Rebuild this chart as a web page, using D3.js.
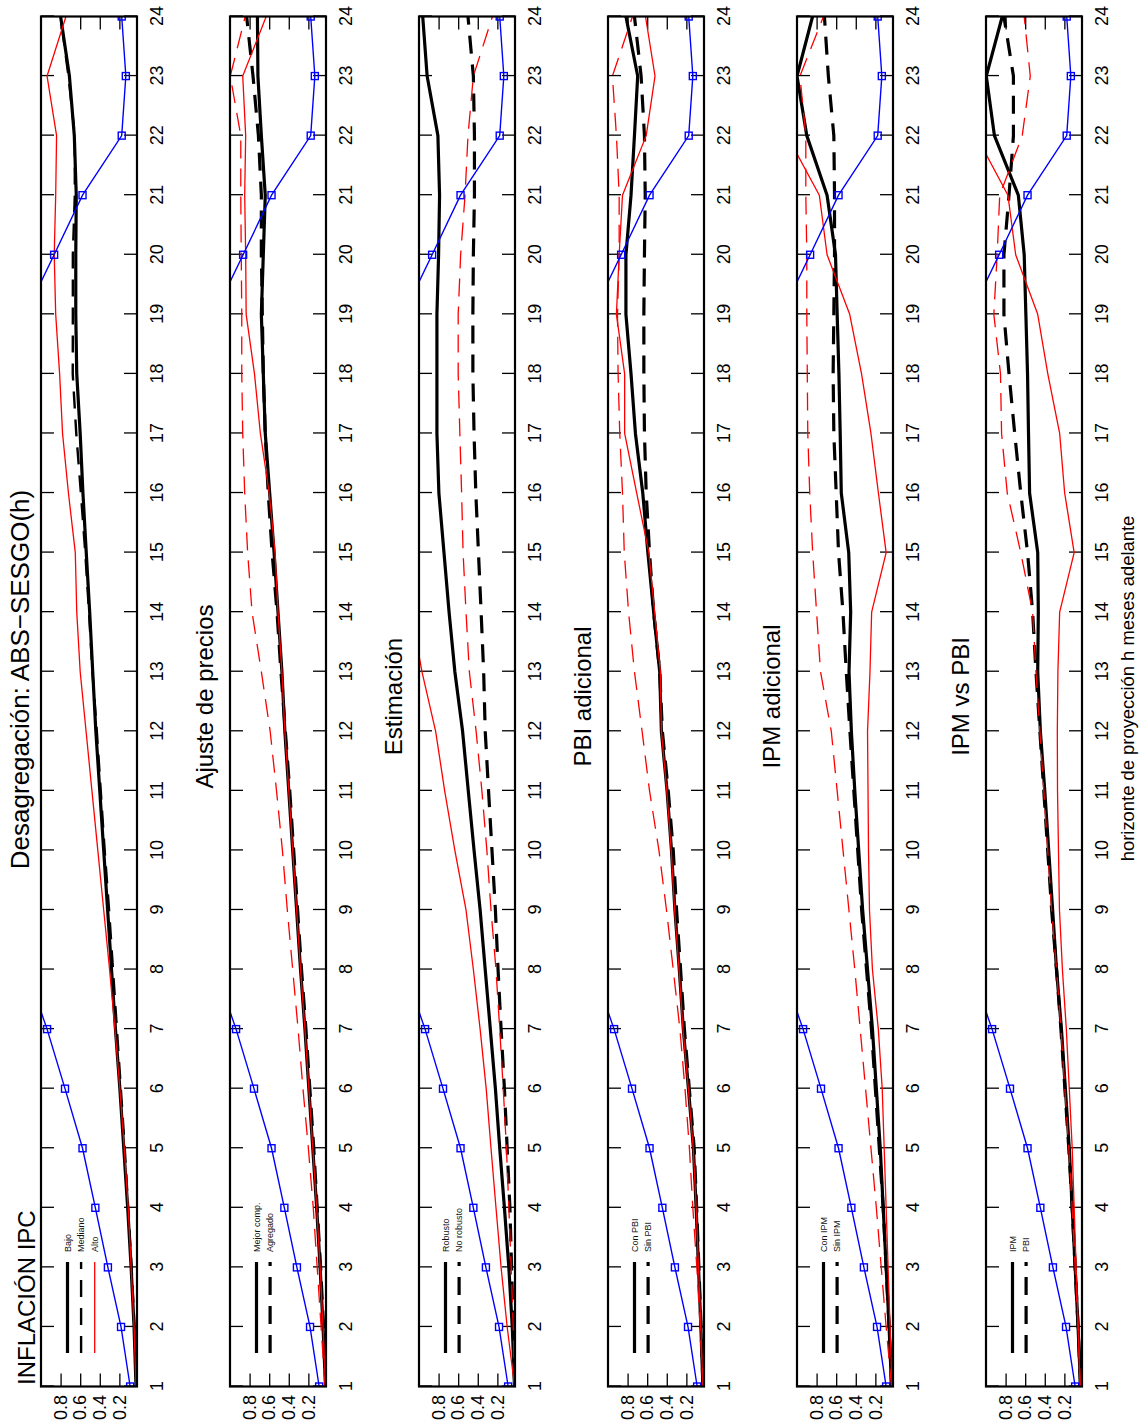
<!DOCTYPE html>
<html><head><meta charset="utf-8">
<script src="https://cdn.jsdelivr.net/npm/d3@7"></script>
<style>
body{margin:0;background:#fff}
svg{display:block}
text{font-family:'Liberation Sans',Arial,Helvetica,sans-serif}
</style>
</head><body>
<svg id="c" width="1144" height="1424"></svg>
<script>
// ---------------- DATA ----------------
const horizons = [1,2,3,4,5,6,7,8,9,10,11,12,13,14,15,16,17,18,19,20,21,22,23,24];
const valueTicks = [0.2,0.4,0.6,0.8];

// reference series (blue squares), identical in every panel
const blueRef = [0.09,0.183,0.317,0.445,0.576,0.755,0.938,1.15,1.3,1.4,1.45,1.5,1.5,1.5,1.45,1.4,1.35,1.25,1.16,0.866,0.576,0.176,0.134,0.176];

// Panel 1: INFLACIÓN IPC
const p1Bajo    = [0.03,0.05,0.08,0.115,0.155,0.195,0.24,0.28,0.32,0.36,0.40,0.44,0.472,0.503,0.538,0.572,0.60,0.635,0.645,0.645,0.64,0.66,0.71,0.80];
const p1Mediano = [0.025,0.045,0.075,0.11,0.145,0.185,0.225,0.265,0.305,0.35,0.39,0.43,0.475,0.51,0.548,0.593,0.64,0.676,0.675,0.675,0.655,0.655,0.72,0.80];
const p1Alto    = [0.03,0.05,0.08,0.11,0.15,0.195,0.245,0.30,0.36,0.42,0.48,0.54,0.60,0.635,0.65,0.72,0.78,0.81,0.85,0.865,0.85,0.841,0.938,0.745];

// Panel 2: Ajuste de precios
const p2Mejor     = [0.025,0.05,0.08,0.115,0.155,0.195,0.235,0.28,0.32,0.36,0.40,0.44,0.47,0.51,0.55,0.595,0.64,0.66,0.68,0.66,0.64,0.68,0.715,0.72];
const p2Agregado  = [0.02,0.045,0.075,0.11,0.145,0.185,0.225,0.27,0.31,0.35,0.39,0.435,0.48,0.52,0.57,0.61,0.64,0.66,0.67,0.68,0.68,0.71,0.765,0.83];
const p2RedSolid  = [0.025,0.05,0.08,0.115,0.155,0.195,0.235,0.28,0.32,0.36,0.40,0.44,0.47,0.51,0.54,0.60,0.69,0.75,0.835,0.84,0.85,0.84,0.87,0.63];
const p2RedDashed = [0.03,0.07,0.11,0.15,0.20,0.255,0.305,0.36,0.415,0.465,0.525,0.59,0.68,0.775,0.82,0.85,0.87,0.88,0.88,0.885,0.89,0.89,0.997,0.845];

// Panel 3: Estimación
const p3Robusto   = [0.024,0.048,0.083,0.128,0.176,0.22,0.272,0.324,0.376,0.438,0.497,0.555,0.634,0.693,0.745,0.797,0.817,0.817,0.817,0.80,0.79,0.807,0.917,0.962];
const p3NoRobusto = [0.024,0.038,0.055,0.072,0.10,0.128,0.162,0.193,0.22,0.255,0.29,0.324,0.34,0.366,0.393,0.42,0.438,0.45,0.45,0.445,0.434,0.434,0.445,0.50];
const p3RedSolid  = [0.024,0.1,0.162,0.214,0.265,0.314,0.376,0.445,0.52,0.634,0.738,0.83,0.97,1.08,1.15,1.2,1.25,1.28,1.3,1.3,1.3,1.28,1.25,1.2];
const p3RedDashed = [0.024,0.038,0.059,0.083,0.107,0.14,0.176,0.214,0.265,0.307,0.358,0.417,0.486,0.52,0.55,0.565,0.583,0.60,0.60,0.575,0.53,0.50,0.445,0.25];

// Panel 4: PBI adicional
const p4ConPBI    = [0.031,0.052,0.076,0.10,0.128,0.179,0.231,0.272,0.317,0.352,0.397,0.455,0.472,0.534,0.593,0.645,0.72,0.765,0.817,0.817,0.765,0.73,0.697,0.817];
const p4SinPBI    = [0.03,0.05,0.072,0.095,0.12,0.17,0.22,0.259,0.30,0.334,0.385,0.445,0.472,0.534,0.576,0.61,0.628,0.634,0.634,0.628,0.62,0.628,0.662,0.73];
const p4RedSolid  = [0.031,0.052,0.076,0.10,0.13,0.18,0.235,0.275,0.32,0.355,0.40,0.455,0.466,0.524,0.583,0.707,0.83,0.83,0.914,0.886,0.852,0.61,0.52,0.617];
const p4RedDashed = [0.031,0.059,0.093,0.134,0.169,0.214,0.266,0.334,0.403,0.48,0.576,0.652,0.73,0.79,0.834,0.852,0.88,0.897,0.903,0.886,0.886,0.914,0.955,0.75];

// Panel 5: IPM adicional
const p5ConIPM    = [0.035,0.06,0.09,0.12,0.15,0.19,0.23,0.28,0.33,0.37,0.41,0.445,0.469,0.452,0.472,0.548,0.559,0.572,0.59,0.607,0.693,0.90,1.0,0.841];
const p5SinIPM    = [0.035,0.06,0.09,0.12,0.16,0.20,0.24,0.29,0.34,0.38,0.42,0.46,0.497,0.531,0.576,0.60,0.624,0.631,0.624,0.617,0.617,0.624,0.68,0.72];
const p5RedSolid  = [0.03,0.05,0.07,0.09,0.11,0.13,0.17,0.23,0.26,0.27,0.275,0.28,0.255,0.238,0.09,0.169,0.245,0.341,0.462,0.693,0.772,1.1,1.2,1.2];
const p5RedDashed = [0.035,0.09,0.14,0.19,0.245,0.30,0.355,0.41,0.47,0.53,0.59,0.65,0.76,0.80,0.84,0.87,0.89,0.895,0.90,0.90,0.91,0.91,0.97,0.73];

// Panel 6: IPM vs PBI
const p6IPM       = [0.035,0.06,0.09,0.12,0.15,0.19,0.23,0.28,0.32,0.36,0.40,0.445,0.472,0.466,0.472,0.555,0.566,0.576,0.593,0.61,0.67,0.914,0.997,0.834];
const p6PBI       = [0.035,0.06,0.09,0.12,0.155,0.195,0.235,0.28,0.33,0.37,0.41,0.45,0.49,0.524,0.576,0.645,0.707,0.765,0.817,0.817,0.765,0.72,0.72,0.817];
const p6RedSolid  = [0.04,0.06,0.08,0.10,0.12,0.15,0.18,0.22,0.25,0.26,0.27,0.272,0.266,0.248,0.10,0.197,0.248,0.369,0.472,0.697,0.776,1.1,1.2,1.2];
const p6RedDashed = [0.035,0.06,0.09,0.12,0.155,0.195,0.235,0.28,0.33,0.37,0.41,0.45,0.49,0.524,0.645,0.783,0.841,0.852,0.92,0.886,0.86,0.63,0.548,0.61];

const panelTitles = ["INFLACIÓN IPC","Ajuste de precios","Estimación","PBI adicional","IPM adicional","IPM vs PBI"];
const legendLabels = [["Bajo","Mediano","Alto"],["Mejor comp.","Agregado"],["Robusto","No robusto"],["Con PBI","Sin PBI"],["Con IPM","Sin IPM"],["IPM","PBI"]];
const mainTitle = "Desagregación: ABS−SESGO(h)";
const xLabel = "horizonte de proyección h meses adelante";

// ---------------- STYLES ----------------
const S = {
  blackSolid:  {stroke:"#000", width:3.2, dash:null},
  blackDashed: {stroke:"#000", width:3.2, dash:"18,11"},
  blackDashedThin: {stroke:"#000", width:2.4, dash:"17,11"},
  redSolid:    {stroke:"#ff0000", width:1.3, dash:null},
  redDashed:   {stroke:"#ff0000", width:1.3, dash:"18,10"},
  blue:        {stroke:"#0000ff", width:1.4, dash:null}
};

const panels = [
  {series:[[p1Bajo,S.blackSolid],[p1Mediano,S.blackDashedThin],[p1Alto,S.redSolid]], legend:[S.blackSolid,S.blackDashedThin,S.redSolid]},
  {series:[[p2Mejor,S.blackSolid],[p2Agregado,S.blackDashed],[p2RedSolid,S.redSolid],[p2RedDashed,S.redDashed]], legend:[S.blackSolid,S.blackDashed]},
  {series:[[p3Robusto,S.blackSolid],[p3NoRobusto,S.blackDashed],[p3RedSolid,S.redSolid],[p3RedDashed,S.redDashed]], legend:[S.blackSolid,S.blackDashed]},
  {series:[[p4ConPBI,S.blackSolid],[p4SinPBI,S.blackDashed],[p4RedSolid,S.redSolid],[p4RedDashed,S.redDashed]], legend:[S.blackSolid,S.blackDashed]},
  {series:[[p5ConIPM,S.blackSolid],[p5SinIPM,S.blackDashed],[p5RedSolid,S.redSolid],[p5RedDashed,S.redDashed]], legend:[S.blackSolid,S.blackDashed]},
  {series:[[p6IPM,S.blackSolid],[p6PBI,S.blackDashed],[p6RedSolid,S.redSolid],[p6RedDashed,S.redDashed]], legend:[S.blackSolid,S.blackDashed]}
];

// ---------------- LAYOUT (unrotated frame, then rotated -90deg) ----------------
const FW = 1424; // frame width before rotation = page height
const X0 = 37.5, X1 = 1407.5;
const panelTop = [41,230,419,608,797,986];
const PH = 96;

const svg = d3.select("#c");
const root = svg.append("g").attr("transform", `translate(0,${FW}) rotate(-90)`);
const x = d3.scaleLinear().domain([1,24]).range([X0,X1]);

panels.forEach((p,i)=>{
  const top = panelTop[i];
  const y = d3.scaleLinear().domain([0.02,1.0]).range([top+PH, top]);
  const g = root.append("g");

  const cid = "clip"+i;
  g.append("clipPath").attr("id",cid).append("rect")
    .attr("x",X0).attr("y",top).attr("width",X1-X0).attr("height",PH);

  // axes
  const ax1 = g.append("g").attr("transform",`translate(0,${top+PH})`)
    .call(d3.axisBottom(x).tickValues(horizons).tickSizeInner(-13).tickSizeOuter(0).tickPadding(13).tickFormat(d3.format("d")));
  const ax2 = g.append("g").attr("transform",`translate(0,${top})`)
    .call(d3.axisTop(x).tickValues(horizons).tickSizeInner(-13).tickSizeOuter(0).tickFormat(""));
  const ax3 = g.append("g").attr("transform",`translate(${X0},0)`)
    .call(d3.axisLeft(y).tickValues(valueTicks).tickSizeInner(-13).tickSizeOuter(0).tickPadding(8.5).tickFormat(d3.format(".1f")));
  const ax4 = g.append("g").attr("transform",`translate(${X1},0)`)
    .call(d3.axisRight(y).tickValues(valueTicks).tickSizeInner(-13).tickSizeOuter(0).tickFormat(""));
  [ax1,ax2,ax3,ax4].forEach(a=>{
    a.select(".domain").remove();
    a.selectAll(".tick line").attr("stroke","#000").attr("stroke-width",1.3);
    a.selectAll(".tick text").attr("font-size",18).attr("fill","#000").attr("font-family","'Liberation Sans',Arial,sans-serif");
  });

  // series
  const line = d3.line().x((d,k)=>x(horizons[k])).y(d=>y(d));
  const plot = g.append("g").attr("clip-path",`url(#${cid})`);
  p.series.forEach(([arr,st])=>{
    plot.append("path").datum(arr).attr("d",line)
      .attr("fill","none").attr("stroke",st.stroke).attr("stroke-width",st.width)
      .attr("stroke-dasharray",st.dash).attr("stroke-linejoin","round");
  });
  plot.append("path").datum(blueRef).attr("d",line)
    .attr("fill","none").attr("stroke",S.blue.stroke).attr("stroke-width",S.blue.width);
  plot.selectAll("rect.mk").data(blueRef).enter().append("rect").attr("class","mk")
    .attr("x",(d,k)=>x(horizons[k])-3.5).attr("y",d=>y(d)-3.5)
    .attr("width",7).attr("height",7).attr("fill","none")
    .attr("stroke","#0000ff").attr("stroke-width",1.4);

  // box
  g.append("rect").attr("x",X0).attr("y",top).attr("width",X1-X0).attr("height",PH)
    .attr("fill","none").attr("stroke","#000").attr("stroke-width",2.2);

  // legend
  const lg = g.append("g");
  p.legend.forEach((st,k)=>{
    const ly = top + 26.5 + k*13.6;
    lg.append("line").attr("x1",71).attr("x2",162).attr("y1",ly).attr("y2",ly)
      .attr("stroke",st.stroke).attr("stroke-width",st.width).attr("stroke-dasharray",st.dash);
    lg.append("text").attr("x",172).attr("y",ly).attr("dy","0.35em")
      .attr("font-size",9).attr("fill","#111").text(legendLabels[i][k]);
  });

  // title
  if(i===0){
    g.append("text").attr("x",39).attr("y",top-6).attr("font-size",24).text(panelTitles[0]);
  } else {
    g.append("text").attr("x",(X0+X1)/2+5).attr("y",top-17).attr("text-anchor","middle")
      .attr("font-size",24).text(panelTitles[i]);
  }
});

root.append("text").attr("x",(X0+X1)/2+22).attr("y",29).attr("text-anchor","middle")
  .attr("font-size",26).text(mainTitle);
root.append("text").attr("x",(X0+X1)/2+13).attr("y",1134).attr("text-anchor","middle")
  .attr("font-size",18.4).text(xLabel);
</script>
</body></html>
